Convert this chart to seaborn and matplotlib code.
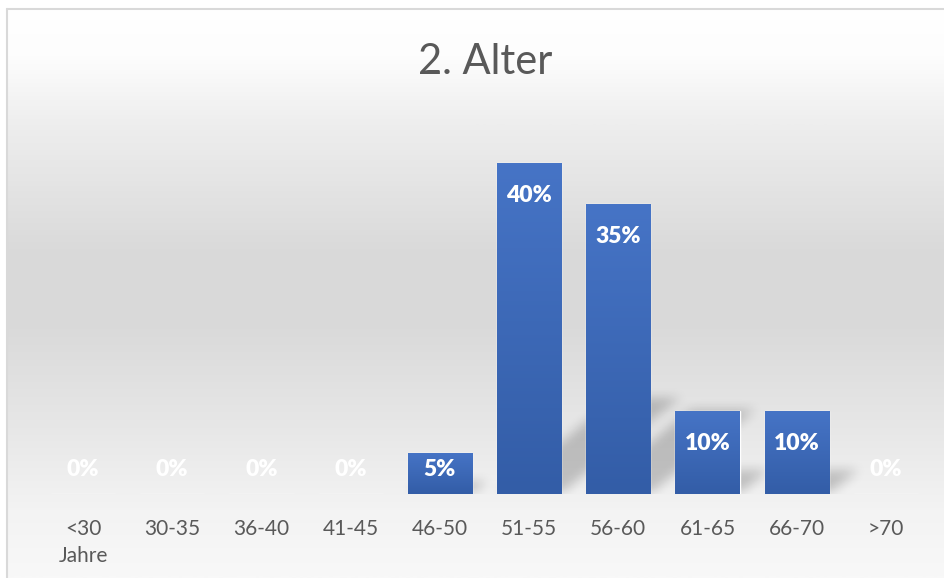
import numpy as np
import pandas as pd
import matplotlib
matplotlib.use("Agg")
import matplotlib.pyplot as plt
import seaborn as sns
from matplotlib.colors import LinearSegmentedColormap
from matplotlib.path import Path

# ---- data ----
categories = ["<30\nJahre", "30-35", "36-40", "41-45", "46-50",
              "51-55", "56-60", "61-65", "66-70", ">70"]
values = [0, 0, 0, 0, 5, 40, 35, 10, 10, 0]
value_labels = [f"{v}%" for v in values]
title = "2. Alter"

sns.set_theme(style="white")
plt.rcParams['font.family'] = ['Lato', 'DejaVu Sans']

W, H = 945, 578
fig = plt.figure(figsize=(W / 100, H / 100), dpi=100)

# ---- background gradient + border ----
bg = fig.add_axes([0, 0, 1, 1], zorder=-10)
bg.set_axis_off()
stops = [(0.0, '#ffffff'), (0.08, '#fdfdfd'), (0.2, '#eeeeee'), (0.42, '#dadada'),
         (0.55, '#d9d9d9'), (0.75, '#e8e8e8'), (0.88, '#f3f3f3'), (1.0, '#f8f8f8')]
bgcmap = LinearSegmentedColormap.from_list('bg', stops)
grad = np.linspace(0, 1, 400).reshape(-1, 1)
bg.imshow(grad, cmap=bgcmap, extent=(7, W, H, 9), aspect='auto', vmin=0, vmax=1,
          origin='upper')
bg.plot([7, 7], [H, 9], color='#d9d9d9', lw=1.5)
bg.plot([7, W], [9, 9], color='#d9d9d9', lw=1.5)
bg.set_xlim(0, W)
bg.set_ylim(H, 0)

# ---- main axes ----
ax = fig.add_axes([38.4 / W, 1 - 494 / H, (930.6 - 38.4) / W, (494 - 121.5) / H])
ax.patch.set_alpha(0)
df = pd.DataFrame({'cat': categories, 'val': values})
sns.barplot(data=df, x='cat', y='val', color='#4472C4', width=0.72, ax=ax,
            saturation=1, zorder=2)
ax.set_xlim(-0.5, 9.5)
ax.set_ylim(0, 45)

bars = list(ax.patches)

# shadows (perspective, blurred)
xs = np.linspace(-0.5, 9.5, 1000)
ys = np.linspace(0, 45, 450)
XX, YY = np.meshgrid(xs, ys)
pts = np.column_stack([XX.ravel(), YY.ravel()])
mask = np.zeros(XX.shape)
for p in bars:
    h = p.get_height()
    if h <= 0:
        continue
    x0 = p.get_x()
    x1 = x0 + p.get_width()
    dx = 0.0334 * h
    hs = 0.29 * h
    path = Path([(x0, 0), (x1, 0), (x1 + dx, hs), (x0 + dx, hs), (x0, 0)])
    m = path.contains_points(pts).reshape(XX.shape)
    mask = np.maximum(mask, m.astype(float))


def box_blur(a, r, axis):
    k = np.ones(2 * r + 1) / (2 * r + 1)
    return np.apply_along_axis(lambda v: np.convolve(v, k, mode='same'), axis, a)


for _ in range(2):
    mask = box_blur(mask, 7, 1)
    mask = box_blur(mask, 7, 0)
shadow = np.zeros(XX.shape + (4,))
shadow[..., 3] = mask * 0.2
ax.imshow(shadow, extent=(-0.5, 9.5, 0, 45), origin='lower', aspect='auto', zorder=1)

# bar gradients
barcmap = LinearSegmentedColormap.from_list('bar', ['#4674C6', '#335DA7'])
for p in bars:
    h = p.get_height()
    if h <= 0:
        continue
    x0 = p.get_x()
    im = ax.imshow(np.linspace(0, 1, 100).reshape(-1, 1), cmap=barcmap,
                   extent=(x0, x0 + p.get_width(), 0, h), aspect='auto',
                   origin='upper', zorder=3)
    im.set_clip_path(p)

# value labels
for p, v, lab in zip(bars, values, value_labels):
    cx = p.get_x() + p.get_width() / 2
    ax.text(cx, max(v - 3.9, 3.0), lab, ha='center', va='center', color='white',
            fontweight='heavy', fontsize=16.5, zorder=5)

ax.set_xlim(-0.5, 9.5)
ax.set_ylim(0, 45)
ax.set_yticks([])
ax.set_xlabel('')
ax.set_ylabel('')
for s in ax.spines.values():
    s.set_visible(False)
ax.tick_params(axis='x', length=0, pad=18, labelsize=15, labelcolor='#595959')
for t in ax.get_xticklabels():
    t.set_linespacing(1.45)

fig.text(485 / W, 1 - 62 / H, title, ha='center', va='center', fontsize=30,
         color='#595959', fontweight='normal')

fig.savefig('out.png', dpi=100)
